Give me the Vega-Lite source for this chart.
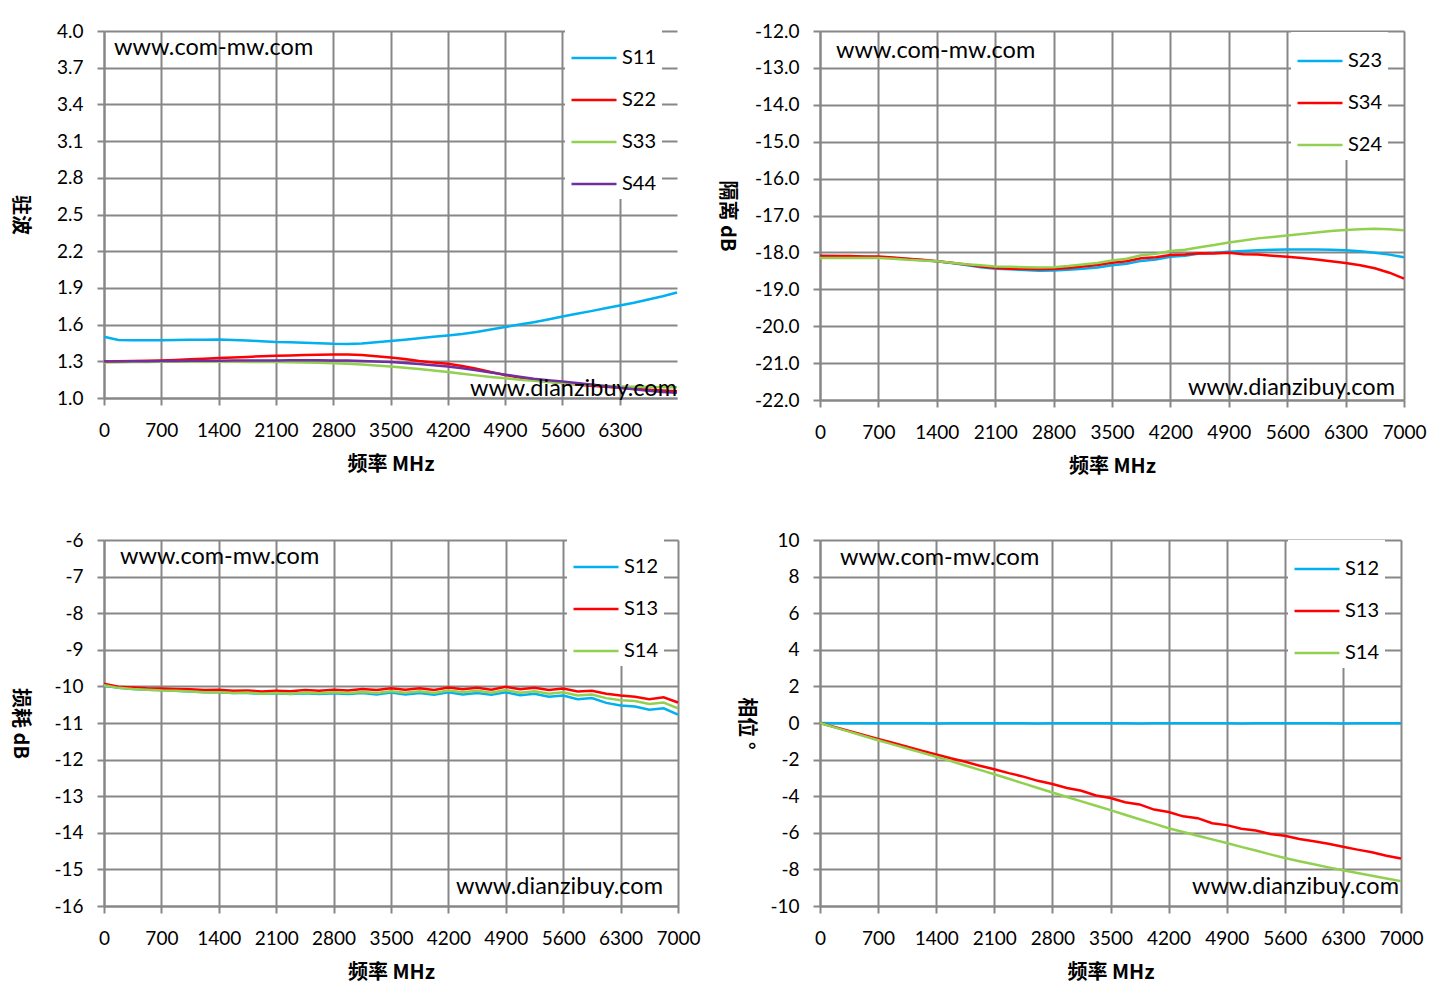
{
  "$schema": "https://vega.github.io/schema/vega-lite/v6.json",
  "background": "white",
  "padding": {"left": 9, "top": 22, "right": 5, "bottom": 5},
  "columns": 2,
  "spacing": {"column": 15, "row": 55},
  "resolve": {"scale": {"color": "independent"}, "legend": {"color": "independent"}},
  "config": {
    "view": {"stroke": null},
    "axis": {
      "gridColor": "#878787", "gridWidth": 2, "gridOpacity": 1,
      "domainColor": "#878787", "domainWidth": 2,
      "tickColor": "#878787", "tickWidth": 2, "tickSize": 7,
      "labelFont": "Lato", "labelFontSize": 19, "labelColor": "#000000", "labelOverlap": false,
      "titleFont": "Noto Sans CJK SC", "titleFontSize": 20, "titleFontWeight": "bold", "titleColor": "#000000"
    },
    "axisX": {"labelPadding": 16, "titlePadding": 14, "labelFlush": false, "tickCount": 12},
    "axisY": {"labelPadding": 14, "titleAngle": 90, "tickCount": 12},
    "legend": {
      "orient": "none", "fillColor": "white", "symbolType": "stroke",
      "symbolSize": 2025, "symbolStrokeWidth": 2.5, "labelFont": "Lato",
      "labelFontSize": 20, "labelColor": "#000000", "rowPadding": 8, "padding": 5, "labelOffset": 4, "title": null
    },
    "text": {"font": "Lato", "fontSize": 23.5, "color": "#000000"}
  },
  "concat": [
    {
      "width": 573, "height": 367,
      "data": {"values": [
        {"f":0,"S11":1.500,"S22":1.298,"S33":1.290,"S44":1.298},
        {"f":175,"S11":1.474,"S22":1.300,"S33":1.292,"S44":1.299},
        {"f":350,"S11":1.472,"S22":1.302,"S33":1.294,"S44":1.300},
        {"f":525,"S11":1.473,"S22":1.304,"S33":1.295,"S44":1.301},
        {"f":700,"S11":1.472,"S22":1.307,"S33":1.296,"S44":1.302},
        {"f":875,"S11":1.475,"S22":1.311,"S33":1.296,"S44":1.303},
        {"f":1050,"S11":1.476,"S22":1.316,"S33":1.296,"S44":1.304},
        {"f":1225,"S11":1.477,"S22":1.321,"S33":1.296,"S44":1.305},
        {"f":1400,"S11":1.478,"S22":1.326,"S33":1.296,"S44":1.305},
        {"f":1575,"S11":1.474,"S22":1.331,"S33":1.296,"S44":1.306},
        {"f":1750,"S11":1.470,"S22":1.336,"S33":1.295,"S44":1.307},
        {"f":1925,"S11":1.464,"S22":1.341,"S33":1.295,"S44":1.307},
        {"f":2100,"S11":1.458,"S22":1.345,"S33":1.294,"S44":1.307},
        {"f":2275,"S11":1.455,"S22":1.348,"S33":1.292,"S44":1.308},
        {"f":2450,"S11":1.451,"S22":1.351,"S33":1.290,"S44":1.308},
        {"f":2625,"S11":1.447,"S22":1.354,"S33":1.288,"S44":1.308},
        {"f":2800,"S11":1.443,"S22":1.356,"S33":1.285,"S44":1.307},
        {"f":2975,"S11":1.442,"S22":1.355,"S33":1.280,"S44":1.306},
        {"f":3150,"S11":1.446,"S22":1.351,"S33":1.274,"S44":1.303},
        {"f":3325,"S11":1.455,"S22":1.342,"S33":1.266,"S44":1.299},
        {"f":3500,"S11":1.465,"S22":1.331,"S33":1.258,"S44":1.294},
        {"f":3675,"S11":1.476,"S22":1.318,"S33":1.248,"S44":1.287},
        {"f":3850,"S11":1.489,"S22":1.303,"S33":1.237,"S44":1.278},
        {"f":4025,"S11":1.500,"S22":1.291,"S33":1.225,"S44":1.268},
        {"f":4200,"S11":1.511,"S22":1.280,"S33":1.212,"S44":1.257},
        {"f":4375,"S11":1.524,"S22":1.262,"S33":1.199,"S44":1.243},
        {"f":4550,"S11":1.540,"S22":1.240,"S33":1.185,"S44":1.227},
        {"f":4725,"S11":1.560,"S22":1.212,"S33":1.172,"S44":1.209},
        {"f":4900,"S11":1.580,"S22":1.188,"S33":1.161,"S44":1.191},
        {"f":5075,"S11":1.600,"S22":1.168,"S33":1.150,"S44":1.174},
        {"f":5250,"S11":1.620,"S22":1.150,"S33":1.140,"S44":1.158},
        {"f":5425,"S11":1.642,"S22":1.135,"S33":1.130,"S44":1.146},
        {"f":5600,"S11":1.666,"S22":1.122,"S33":1.122,"S44":1.135},
        {"f":5775,"S11":1.688,"S22":1.110,"S33":1.115,"S44":1.123},
        {"f":5950,"S11":1.710,"S22":1.100,"S33":1.108,"S44":1.111},
        {"f":6125,"S11":1.733,"S22":1.092,"S33":1.101,"S44":1.097},
        {"f":6300,"S11":1.756,"S22":1.084,"S33":1.095,"S44":1.084},
        {"f":6475,"S11":1.778,"S22":1.076,"S33":1.091,"S44":1.072},
        {"f":6650,"S11":1.805,"S22":1.068,"S33":1.089,"S44":1.060},
        {"f":6825,"S11":1.832,"S22":1.062,"S33":1.088,"S44":1.050},
        {"f":7000,"S11":1.862,"S22":1.056,"S33":1.088,"S44":1.042}
      ]},
      "layer": [
        {
          "transform": [{"fold": ["S11","S22","S33","S44"], "as": ["series","value"]}],
          "mark": {"type": "line", "strokeWidth": 2.5},
          "encoding": {
            "x": {"field": "f", "type": "quantitative", "scale": {"domain": [0,7000], "nice": false, "zero": false},
                  "axis": {"title": "频率 MHz", "format": "d", "values": [0,700,1400,2100,2800,3500,4200,4900,5600,6300]}},
            "y": {"field": "value", "type": "quantitative", "scale": {"domain": [1,4], "nice": false, "zero": false},
                  "axis": {"title": "驻波", "titlePadding": 47, "values": [1.0,1.3,1.6,1.9,2.2,2.5,2.8,3.1,3.4,3.7,4.0], "format": ".1f"}},
            "color": {"field": "series", "type": "nominal",
                      "scale": {"domain": ["S11","S22","S33","S44"], "range": ["#00B0F0","#FF0000","#92D050","#7030A0"]},
                      "legend": {"legendX": 461, "legendY": -2}}
          }
        },
        {
          "data": {"values": [{"t": "www.com-mw.com"}]},
          "mark": {"type": "text", "align": "left", "baseline": "middle", "dx": 10, "dy": 17},
          "encoding": {"text": {"field": "t"}, "x": {"datum": 0, "type": "quantitative"}, "y": {"datum": 4, "type": "quantitative"}}
        },
        {
          "data": {"values": [{"t": "www.dianzibuy.com"}]},
          "mark": {"type": "text", "align": "right", "baseline": "middle", "dx": 0, "dy": -9},
          "encoding": {"text": {"field": "t"}, "x": {"datum": 7000, "type": "quantitative"}, "y": {"datum": 1, "type": "quantitative"}}
        }
      ]
    },
    {
      "width": 584, "height": 369,
      "data": {"values": [
        {"f":0,"S23":-18.09,"S34":-18.10,"S24":-18.15},
        {"f":175,"S23":-18.10,"S34":-18.10,"S24":-18.15},
        {"f":350,"S23":-18.11,"S34":-18.10,"S24":-18.15},
        {"f":525,"S23":-18.12,"S34":-18.11,"S24":-18.15},
        {"f":700,"S23":-18.13,"S34":-18.11,"S24":-18.15},
        {"f":875,"S23":-18.15,"S34":-18.14,"S24":-18.17},
        {"f":1050,"S23":-18.18,"S34":-18.17,"S24":-18.20},
        {"f":1225,"S23":-18.21,"S34":-18.20,"S24":-18.22},
        {"f":1400,"S23":-18.24,"S34":-18.24,"S24":-18.24},
        {"f":1575,"S23":-18.29,"S34":-18.28,"S24":-18.28},
        {"f":1750,"S23":-18.34,"S34":-18.33,"S24":-18.32},
        {"f":1925,"S23":-18.40,"S34":-18.38,"S24":-18.35},
        {"f":2100,"S23":-18.44,"S34":-18.42,"S24":-18.38},
        {"f":2275,"S23":-18.46,"S34":-18.44,"S24":-18.39},
        {"f":2450,"S23":-18.48,"S34":-18.45,"S24":-18.40},
        {"f":2625,"S23":-18.50,"S34":-18.46,"S24":-18.41},
        {"f":2800,"S23":-18.49,"S34":-18.45,"S24":-18.40},
        {"f":2975,"S23":-18.47,"S34":-18.42,"S24":-18.37},
        {"f":3150,"S23":-18.44,"S34":-18.38,"S24":-18.33},
        {"f":3325,"S23":-18.41,"S34":-18.34,"S24":-18.29},
        {"f":3500,"S23":-18.35,"S34":-18.28,"S24":-18.22},
        {"f":3675,"S23":-18.31,"S34":-18.24,"S24":-18.17},
        {"f":3850,"S23":-18.23,"S34":-18.16,"S24":-18.08},
        {"f":4025,"S23":-18.19,"S34":-18.13,"S24":-18.04},
        {"f":4200,"S23":-18.12,"S34":-18.07,"S24":-17.96},
        {"f":4375,"S23":-18.09,"S34":-18.06,"S24":-17.93},
        {"f":4550,"S23":-18.03,"S34":-18.02,"S24":-17.86},
        {"f":4725,"S23":-18.01,"S34":-18.03,"S24":-17.80},
        {"f":4900,"S23":-17.98,"S34":-18.01,"S24":-17.73},
        {"f":5075,"S23":-17.96,"S34":-18.05,"S24":-17.68},
        {"f":5250,"S23":-17.94,"S34":-18.06,"S24":-17.62},
        {"f":5425,"S23":-17.93,"S34":-18.09,"S24":-17.58},
        {"f":5600,"S23":-17.92,"S34":-18.12,"S24":-17.54},
        {"f":5775,"S23":-17.92,"S34":-18.15,"S24":-17.50},
        {"f":5950,"S23":-17.92,"S34":-18.19,"S24":-17.46},
        {"f":6125,"S23":-17.93,"S34":-18.24,"S24":-17.42},
        {"f":6300,"S23":-17.94,"S34":-18.29,"S24":-17.39},
        {"f":6475,"S23":-17.97,"S34":-18.35,"S24":-17.37},
        {"f":6650,"S23":-18.01,"S34":-18.43,"S24":-17.36},
        {"f":6825,"S23":-18.06,"S34":-18.55,"S24":-17.37},
        {"f":7000,"S23":-18.13,"S34":-18.71,"S24":-17.40}
      ]},
      "layer": [
        {
          "transform": [{"fold": ["S23","S34","S24"], "as": ["series","value"]}],
          "mark": {"type": "line", "strokeWidth": 2.5},
          "encoding": {
            "x": {"field": "f", "type": "quantitative", "scale": {"domain": [0,7000], "nice": false, "zero": false},
                  "axis": {"title": "频率 MHz", "format": "d", "values": [0,700,1400,2100,2800,3500,4200,4900,5600,6300,7000]}},
            "y": {"field": "value", "type": "quantitative", "scale": {"domain": [-22,-12], "nice": false, "zero": false},
                  "axis": {"title": "隔离 dB", "values": [-22,-21,-20,-19,-18,-17,-16,-15,-14,-13,-12], "format": ".1f",
                           "labelExpr": "replace(datum.label, '\u2212', '-')", "titlePadding": 38}},
            "color": {"field": "series", "type": "nominal",
                      "scale": {"domain": ["S23","S34","S24"], "range": ["#00B0F0","#FF0000","#92D050"]},
                      "legend": {"legendX": 471, "legendY": 1}}
          }
        },
        {
          "data": {"values": [{"t": "www.com-mw.com"}]},
          "mark": {"type": "text", "align": "left", "baseline": "middle", "dx": 16, "dy": 20},
          "encoding": {"text": {"field": "t"}, "x": {"datum": 0, "type": "quantitative"}, "y": {"datum": -12, "type": "quantitative"}}
        },
        {
          "data": {"values": [{"t": "www.dianzibuy.com"}]},
          "mark": {"type": "text", "align": "right", "baseline": "middle", "dx": -9, "dy": -12},
          "encoding": {"text": {"field": "t"}, "x": {"datum": 7000, "type": "quantitative"}, "y": {"datum": -22, "type": "quantitative"}}
        }
      ]
    },
    {
      "width": 574, "height": 366,
      "data": {"values": [
        {"f":0,"S12":-9.98,"S13":-9.93,"S14":-9.97},
        {"f":175,"S12":-10.04,"S13":-10.01,"S14":-10.04},
        {"f":350,"S12":-10.07,"S13":-10.03,"S14":-10.07},
        {"f":525,"S12":-10.09,"S13":-10.05,"S14":-10.09},
        {"f":700,"S12":-10.10,"S13":-10.06,"S14":-10.11},
        {"f":875,"S12":-10.12,"S13":-10.07,"S14":-10.12},
        {"f":1050,"S12":-10.14,"S13":-10.08,"S14":-10.14},
        {"f":1225,"S12":-10.16,"S13":-10.10,"S14":-10.16},
        {"f":1400,"S12":-10.16,"S13":-10.09,"S14":-10.16},
        {"f":1575,"S12":-10.18,"S13":-10.12,"S14":-10.18},
        {"f":1750,"S12":-10.18,"S13":-10.11,"S14":-10.17},
        {"f":1925,"S12":-10.20,"S13":-10.14,"S14":-10.20},
        {"f":2100,"S12":-10.19,"S13":-10.12,"S14":-10.18},
        {"f":2275,"S12":-10.21,"S13":-10.13,"S14":-10.20},
        {"f":2450,"S12":-10.19,"S13":-10.10,"S14":-10.17},
        {"f":2625,"S12":-10.21,"S13":-10.12,"S14":-10.19},
        {"f":2800,"S12":-10.19,"S13":-10.09,"S14":-10.16},
        {"f":2975,"S12":-10.21,"S13":-10.11,"S14":-10.18},
        {"f":3150,"S12":-10.18,"S13":-10.07,"S14":-10.15},
        {"f":3325,"S12":-10.22,"S13":-10.10,"S14":-10.18},
        {"f":3500,"S12":-10.17,"S13":-10.05,"S14":-10.13},
        {"f":3675,"S12":-10.22,"S13":-10.09,"S14":-10.17},
        {"f":3850,"S12":-10.18,"S13":-10.05,"S14":-10.13},
        {"f":4025,"S12":-10.23,"S13":-10.10,"S14":-10.18},
        {"f":4200,"S12":-10.16,"S13":-10.03,"S14":-10.11},
        {"f":4375,"S12":-10.22,"S13":-10.08,"S14":-10.16},
        {"f":4550,"S12":-10.18,"S13":-10.04,"S14":-10.12},
        {"f":4725,"S12":-10.23,"S13":-10.09,"S14":-10.17},
        {"f":4900,"S12":-10.16,"S13":-10.01,"S14":-10.10},
        {"f":5075,"S12":-10.24,"S13":-10.08,"S14":-10.17},
        {"f":5250,"S12":-10.20,"S13":-10.04,"S14":-10.13},
        {"f":5425,"S12":-10.28,"S13":-10.10,"S14":-10.20},
        {"f":5600,"S12":-10.25,"S13":-10.06,"S14":-10.16},
        {"f":5775,"S12":-10.35,"S13":-10.14,"S14":-10.25},
        {"f":5950,"S12":-10.32,"S13":-10.12,"S14":-10.22},
        {"f":6125,"S12":-10.45,"S13":-10.20,"S14":-10.32},
        {"f":6300,"S12":-10.52,"S13":-10.25,"S14":-10.38},
        {"f":6475,"S12":-10.55,"S13":-10.28,"S14":-10.40},
        {"f":6650,"S12":-10.64,"S13":-10.35,"S14":-10.48},
        {"f":6825,"S12":-10.60,"S13":-10.30,"S14":-10.44},
        {"f":7000,"S12":-10.77,"S13":-10.44,"S14":-10.60}
      ]},
      "layer": [
        {
          "transform": [{"fold": ["S12","S13","S14"], "as": ["series","value"]}],
          "mark": {"type": "line", "strokeWidth": 2.5},
          "encoding": {
            "x": {"field": "f", "type": "quantitative", "scale": {"domain": [0,7000], "nice": false, "zero": false},
                  "axis": {"title": "频率 MHz", "format": "d", "values": [0,700,1400,2100,2800,3500,4200,4900,5600,6300,7000]}},
            "y": {"field": "value", "type": "quantitative", "scale": {"domain": [-16,-6], "nice": false, "zero": false},
                  "axis": {"title": "损耗 dB", "values": [-16,-15,-14,-13,-12,-11,-10,-9,-8,-7,-6], "format": "d",
                           "labelExpr": "replace(datum.label, '\u2212', '-')", "titlePadding": 44}},
            "color": {"field": "series", "type": "nominal",
                      "scale": {"domain": ["S12","S13","S14"], "range": ["#00B0F0","#FF0000","#92D050"]},
                      "legend": {"legendX": 463, "legendY": -2}}
          }
        },
        {
          "data": {"values": [{"t": "www.com-mw.com"}]},
          "mark": {"type": "text", "align": "left", "baseline": "middle", "dx": 16, "dy": 17},
          "encoding": {"text": {"field": "t"}, "x": {"datum": 0, "type": "quantitative"}, "y": {"datum": -6, "type": "quantitative"}}
        },
        {
          "data": {"values": [{"t": "www.dianzibuy.com"}]},
          "mark": {"type": "text", "align": "right", "baseline": "middle", "dx": -15, "dy": -19},
          "encoding": {"text": {"field": "t"}, "x": {"datum": 7000, "type": "quantitative"}, "y": {"datum": -16, "type": "quantitative"}}
        }
      ]
    },
    {
      "width": 581, "height": 366,
      "data": {"values": [
        {"f":0,"S12":0.00,"S13":0.00,"S14":0.00},
        {"f":175,"S12":-0.01,"S13":-0.22,"S14":-0.24},
        {"f":350,"S12":-0.02,"S13":-0.44,"S14":-0.47},
        {"f":525,"S12":-0.01,"S13":-0.66,"S14":-0.71},
        {"f":700,"S12":-0.02,"S13":-0.87,"S14":-0.94},
        {"f":875,"S12":-0.02,"S13":-1.08,"S14":-1.17},
        {"f":1050,"S12":-0.01,"S13":-1.30,"S14":-1.39},
        {"f":1225,"S12":-0.02,"S13":-1.51,"S14":-1.62},
        {"f":1400,"S12":-0.03,"S13":-1.72,"S14":-1.84},
        {"f":1575,"S12":-0.02,"S13":-1.93,"S14":-2.08},
        {"f":1750,"S12":-0.01,"S13":-2.12,"S14":-2.32},
        {"f":1925,"S12":-0.02,"S13":-2.34,"S14":-2.56},
        {"f":2100,"S12":-0.02,"S13":-2.53,"S14":-2.80},
        {"f":2275,"S12":-0.01,"S13":-2.74,"S14":-3.05},
        {"f":2450,"S12":-0.02,"S13":-2.93,"S14":-3.30},
        {"f":2625,"S12":-0.03,"S13":-3.16,"S14":-3.55},
        {"f":2800,"S12":-0.02,"S13":-3.33,"S14":-3.80},
        {"f":2975,"S12":-0.01,"S13":-3.55,"S14":-4.04},
        {"f":3150,"S12":-0.02,"S13":-3.70,"S14":-4.28},
        {"f":3325,"S12":-0.02,"S13":-3.96,"S14":-4.52},
        {"f":3500,"S12":-0.01,"S13":-4.10,"S14":-4.76},
        {"f":3675,"S12":-0.02,"S13":-4.33,"S14":-5.01},
        {"f":3850,"S12":-0.03,"S13":-4.45,"S14":-5.26},
        {"f":4025,"S12":-0.02,"S13":-4.73,"S14":-5.50},
        {"f":4200,"S12":-0.01,"S13":-4.86,"S14":-5.75},
        {"f":4375,"S12":-0.02,"S13":-5.10,"S14":-5.96},
        {"f":4550,"S12":-0.02,"S13":-5.20,"S14":-6.16},
        {"f":4725,"S12":-0.01,"S13":-5.48,"S14":-6.36},
        {"f":4900,"S12":-0.02,"S13":-5.58,"S14":-6.56},
        {"f":5075,"S12":-0.03,"S13":-5.78,"S14":-6.77},
        {"f":5250,"S12":-0.02,"S13":-5.88,"S14":-6.97},
        {"f":5425,"S12":-0.01,"S13":-6.06,"S14":-7.18},
        {"f":5600,"S12":-0.02,"S13":-6.16,"S14":-7.38},
        {"f":5775,"S12":-0.02,"S13":-6.34,"S14":-7.55},
        {"f":5950,"S12":-0.01,"S13":-6.46,"S14":-7.72},
        {"f":6125,"S12":-0.02,"S13":-6.60,"S14":-7.89},
        {"f":6300,"S12":-0.03,"S13":-6.76,"S14":-8.05},
        {"f":6475,"S12":-0.02,"S13":-6.92,"S14":-8.20},
        {"f":6650,"S12":-0.01,"S13":-7.06,"S14":-8.35},
        {"f":6825,"S12":-0.02,"S13":-7.25,"S14":-8.50},
        {"f":7000,"S12":-0.02,"S13":-7.40,"S14":-8.64}
      ]},
      "layer": [
        {
          "transform": [{"fold": ["S12","S13","S14"], "as": ["series","value"]}],
          "mark": {"type": "line", "strokeWidth": 2.5},
          "encoding": {
            "x": {"field": "f", "type": "quantitative", "scale": {"domain": [0,7000], "nice": false, "zero": false},
                  "axis": {"title": "频率 MHz", "format": "d", "values": [0,700,1400,2100,2800,3500,4200,4900,5600,6300,7000]}},
            "y": {"field": "value", "type": "quantitative", "scale": {"domain": [-10,10], "nice": false, "zero": false},
                  "axis": {"title": "相位 °", "values": [-10,-8,-6,-4,-2,0,2,4,6,8,10], "format": "d",
                           "labelExpr": "replace(datum.label, '\u2212', '-')", "titlePadding": 34}},
            "color": {"field": "series", "type": "nominal",
                      "scale": {"domain": ["S12","S13","S14"], "range": ["#00B0F0","#FF0000","#92D050"]},
                      "legend": {"legendX": 468, "legendY": 0}}
          }
        },
        {
          "data": {"values": [{"t": "www.com-mw.com"}]},
          "mark": {"type": "text", "align": "left", "baseline": "middle", "dx": 20, "dy": 18},
          "encoding": {"text": {"field": "t"}, "x": {"datum": 0, "type": "quantitative"}, "y": {"datum": 10, "type": "quantitative"}}
        },
        {
          "data": {"values": [{"t": "www.dianzibuy.com"}]},
          "mark": {"type": "text", "align": "right", "baseline": "middle", "dx": -2, "dy": -19},
          "encoding": {"text": {"field": "t"}, "x": {"datum": 7000, "type": "quantitative"}, "y": {"datum": -10, "type": "quantitative"}}
        }
      ]
    }
  ]
}
